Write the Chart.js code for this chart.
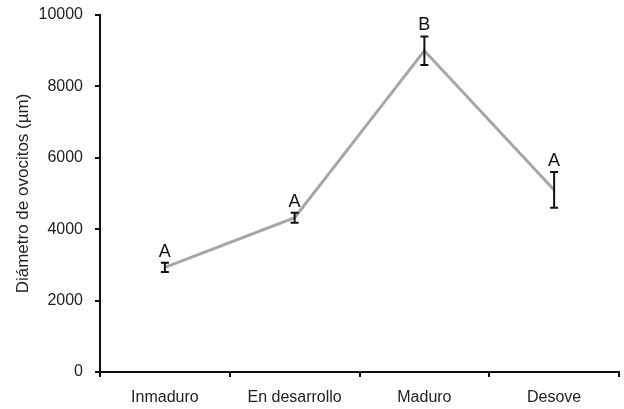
<!DOCTYPE html>
<html>
<head>
<meta charset="utf-8">
<script src="https://cdn.jsdelivr.net/npm/chart.js@4/dist/chart.umd.min.js"></script>
<style>
  html, body { margin: 0; padding: 0; background: #fff; }
  #wrap { width: 624px; height: 409px; }
</style>
</head>
<body>
<div id="wrap"><canvas id="myChart"></canvas></div>
<script>
'use strict';

// Data
const stages = ['Inmaduro', 'En desarrollo', 'Maduro', 'Desove'];
const meanDiameter = [2930, 4320, 9000, 5100];
const errDiameter = [130, 140, 400, 500];
const groupLetters = ['A', 'A', 'B', 'A'];
const yTicks = [0, 2000, 4000, 6000, 8000, 10000];

const FONT = '"Liberation Sans", Arial, sans-serif';
const ctx = document.querySelector('#myChart').getContext('2d');

// Error bars + letters on top
const errorBars = {
  id: 'errorBars',
  afterDatasetsDraw(chart) {
    const x = chart.scales.x, y = chart.scales.y, c = chart.ctx;
    c.save();
    c.strokeStyle = '#111';
    c.lineWidth = 2;
    c.fillStyle = '#111';
    c.font = '18px ' + FONT;
    c.textAlign = 'center';
    c.textBaseline = 'bottom';
    meanDiameter.forEach((v, i) => {
      const px = x.getPixelForValue(i);
      const top = y.getPixelForValue(v + errDiameter[i]);
      const bot = y.getPixelForValue(v - errDiameter[i]);
      c.beginPath();
      c.moveTo(px, top); c.lineTo(px, bot);
      c.moveTo(px - 4, top); c.lineTo(px + 4, top);
      c.moveTo(px - 4, bot); c.lineTo(px + 4, bot);
      c.stroke();
      c.fillText(groupLetters[i], px, top - 2);
    });
    c.restore();
  }
};

const myChart = new Chart(ctx, {
  type: 'line',
  data: {
    labels: stages,
    datasets: [{
      data: meanDiameter,
      borderColor: '#a6a6a6',
      borderWidth: 3,
      pointRadius: 0,
      tension: 0,
      fill: false
    }]
  },
  options: {
    responsive: true,
    maintainAspectRatio: false,
    animation: false,
    layout: { padding: { top: 0, right: 5, bottom: 0, left: 0 } },
    scales: {
      x: {
        offset: true,
        border: { color: '#111', width: 2 },
        grid: { offset: true, drawOnChartArea: false, color: '#111', lineWidth: 2, tickLength: 5 },
        ticks: { color: '#222', font: { family: FONT, size: 16 }, padding: 11, maxRotation: 0 },
        afterFit(scale) { scale.height = 37; }
      },
      y: {
        min: 0,
        max: 10000,
        border: { color: '#111', width: 2 },
        grid: { drawOnChartArea: false, color: '#111', lineWidth: 2, tickLength: 5 },
        afterBuildTicks(scale) { scale.ticks = yTicks.map(v => ({ value: v })); },
        ticks: {
          color: '#222',
          font: { family: FONT, size: 16 },
          padding: 12,
          callback: (value) => String(value)
        },
        title: {
          display: true,
          text: 'Diámetro de ovocitos (µm)',
          color: '#222',
          font: { family: FONT, size: 17 },
          padding: { top: 13, bottom: 0 }
        },
        afterFit(scale) {
          scale.width = 100;
          scale.paddingTop = 15;
          scale.paddingBottom = 0;
        }
      }
    },
    plugins: {
      legend: { display: false },
      tooltip: { enabled: false }
    }
  },
  plugins: [errorBars]
});
</script>
</body>
</html>
